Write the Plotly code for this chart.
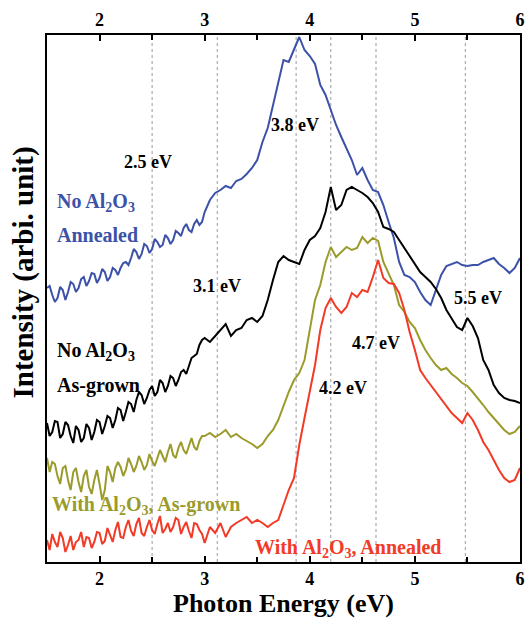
import plotly.graph_objects as go

energy = [1.500, 1.525, 1.550, 1.575, 1.600, 1.625, 1.650, 1.675, 1.700, 1.725,
          1.750, 1.775, 1.800, 1.825, 1.850, 1.875, 1.900, 1.925, 1.950, 1.975,
          2.000, 2.025, 2.050, 2.075, 2.100, 2.125, 2.150, 2.175, 2.200, 2.225,
          2.250, 2.275, 2.300, 2.325, 2.350, 2.375, 2.400, 2.425, 2.450, 2.475,
          2.500, 2.525, 2.550, 2.575, 2.600, 2.625, 2.650, 2.675, 2.700, 2.725,
          2.750, 2.775, 2.800, 2.825, 2.850, 2.875, 2.900, 2.925, 2.950, 2.975,
          3.00, 3.05, 3.10, 3.15, 3.20, 3.25, 3.30, 3.35, 3.40, 3.45,
          3.50, 3.55, 3.60, 3.65, 3.70, 3.75, 3.80, 3.85, 3.90, 3.95,
          4.00, 4.05, 4.10, 4.15, 4.20, 4.25, 4.30, 4.35, 4.40, 4.45,
          4.50, 4.55, 4.60, 4.65, 4.70, 4.75, 4.80, 4.85, 4.90, 4.95,
          5.00, 5.05, 5.10, 5.15, 5.20, 5.25, 5.30, 5.35, 5.40, 5.45,
          5.50, 5.55, 5.60, 5.65, 5.70, 5.75, 5.80, 5.85, 5.90, 5.95, 6.00]

no_al2o3_annealed = [274, 276, 267, 260, 264, 275, 272, 262, 270, 280,
                     278, 270, 274, 283, 285, 276, 281, 289, 288, 279,
                     284, 293, 290, 281, 285, 294, 292, 287, 294, 299,
                     300, 297, 304, 313, 310, 303, 308, 318, 316, 309,
                     313, 323, 320, 315, 317, 327, 324, 318, 322, 331,
                     329, 326, 334, 338, 332, 330, 338, 342, 337, 340,
                     350, 362, 369, 372, 376, 374, 381, 383, 388, 394,
                     402, 420, 434, 457, 480, 502, 500, 512, 525, 512,
                     506, 498, 477, 467, 452, 437, 425, 414, 402, 387,
                     394, 382, 372, 370, 357, 340, 324, 300, 287, 285,
                     280, 270, 262, 257, 272, 287, 296, 298, 300, 297,
                     296, 297, 297, 300, 302, 304, 298, 294, 289, 294, 304]

no_al2o3_asgrown = [139, 126, 130, 141, 140, 124, 128, 140, 137, 126,
                    119, 136, 132, 120, 124, 138, 134, 122, 130, 142,
                    140, 128, 136, 146, 144, 134, 142, 154, 152, 141,
                    150, 160, 158, 150, 162, 170, 167, 158, 164, 172,
                    176, 166, 170, 182, 179, 170, 176, 186, 184, 176,
                    182, 190, 192, 188, 196, 204, 206, 208, 217, 222,
                    224, 220, 226, 232, 238, 226, 232, 234, 242, 244,
                    240, 246, 262, 282, 300, 306, 302, 300, 298, 312,
                    322, 326, 334, 350, 375, 352, 357, 372, 375, 372,
                    369, 365, 359, 350, 335, 333, 330, 322, 314, 305,
                    297, 290, 285, 280, 273, 264, 252, 244, 235, 232,
                    244, 236, 224, 202, 192, 177, 169, 164, 162, 161, 159]

with_al2o3_asgrown = [104, 90, 100, 98, 86, 78, 94, 96, 82, 72,
                      90, 94, 80, 70, 86, 92, 75, 68, 82, 92,
                      78, 62, 72, 96, 90, 80, 94, 100, 95, 86,
                      92, 104, 98, 90, 96, 106, 100, 92, 97, 108,
                      101, 96, 104, 112, 106, 100, 110, 118, 107, 104,
                      114, 120, 112, 108, 116, 124, 115, 112, 121, 126,
                      126, 129, 125, 128, 132, 125, 128, 124, 121, 118,
                      114, 118, 126, 132, 142, 157, 170, 182, 189, 202,
                      232, 262, 277, 300, 315, 305, 310, 315, 312, 314,
                      325, 319, 324, 321, 300, 289, 277, 257, 250, 240,
                      234, 222, 212, 204, 197, 192, 194, 188, 184, 179,
                      176, 170, 164, 157, 150, 144, 138, 132, 128, 130, 136]

with_al2o3_annealed = [22, 12, 28, 20, 15, 30, 24, 10, 17, 26,
                       12, 20, 22, 30, 15, 25, 24, 14, 20, 30,
                       29, 18, 21, 34, 27, 20, 32, 40, 25, 24,
                       35, 42, 31, 26, 38, 44, 29, 26, 35, 42,
                       32, 28, 38, 46, 29, 33, 39, 30, 35, 44,
                       42, 28, 35, 40, 31, 24, 39, 38, 32, 28,
                       19, 35, 29, 39, 25, 35, 39, 42, 45, 39,
                       42, 39, 35, 39, 42, 57, 72, 84, 117, 144,
                       172, 197, 232, 254, 264, 255, 249, 255, 269, 265,
                       272, 270, 285, 302, 284, 279, 278, 269, 252, 230,
                       212, 192, 184, 177, 169, 162, 155, 149, 144, 139,
                       149, 142, 132, 120, 112, 102, 92, 84, 80, 82, 94]

guide_energies = [2.5, 3.12, 3.87, 4.2, 4.63, 5.48]
x_ticks = [2, 3, 4, 5, 6]
x_minor_ticks = [2.5, 3.5, 4.5, 5.5]
x_range = [1.5, 6.0]
y_range = [0, 527]

series = [
    ("No Al2O3, Annealed", no_al2o3_annealed, "#3c51a8"),
    ("No Al2O3, As-grown", no_al2o3_asgrown, "#000000"),
    ("With Al2O3, As-grown", with_al2o3_asgrown, "#9b9b2c"),
    ("With Al2O3, Annealed", with_al2o3_annealed, "#f23a26"),
]

FONT = "Liberation Serif, Times New Roman, serif"

fig = go.Figure()
for name, vals, col in series:
    fig.add_trace(go.Scatter(x=energy, y=vals, mode="lines", name=name,
                             line=dict(color=col, width=2), showlegend=False))

# invisible trace to carry the top axis
fig.add_trace(go.Scatter(x=x_range, y=[None, None], xaxis="x2", mode="lines",
                         showlegend=False, hoverinfo="skip"))

for e in guide_energies:
    fig.add_shape(type="line", xref="x", yref="paper", x0=e, x1=e, y0=0, y1=1,
                  line=dict(color="#9a9a9a", width=1, dash="dot"), layer="below")

tickfont = dict(family=FONT, size=18, color="black", weight="bold")
axis_common = dict(range=x_range, tickvals=x_ticks, ticks="inside", ticklen=6,
                   tickwidth=1.5, tickcolor="black", tickfont=tickfont,
                   showgrid=False, zeroline=False, showline=True,
                   linecolor="black", linewidth=1.5, automargin=False,
                   minor=dict(tickvals=x_minor_ticks, ticks="inside",
                              ticklen=5, tickcolor="black", tickwidth=1.5))

fig.update_layout(
    width=525, height=618,
    margin=dict(l=47, r=5, t=35, b=56, autoexpand=False),
    plot_bgcolor="white", paper_bgcolor="white",
    xaxis=dict(**axis_common, mirror=False),
    xaxis2=dict(**axis_common, overlaying="x", side="top", anchor="y"),
    yaxis=dict(range=y_range, showticklabels=False, ticks="", showgrid=False,
               zeroline=False, showline=True, mirror=True, automargin=False,
               linecolor="black", linewidth=1.5),
)

ann_font = lambda size, col: dict(family=FONT, size=size, color=col, weight="bold")
labels = [
    ("2.5 eV", 2.462, 400, "center", 18, "black"),
    ("3.8 eV", 3.858, 437, "center", 18, "black"),
    ("3.1 eV", 3.117, 276, "center", 18, "black"),
    ("4.2 eV", 4.315, 174, "center", 18, "black"),
    ("4.7 eV", 4.627, 219, "center", 18, "black"),
    ("5.5 eV", 5.596, 264, "center", 18, "black"),
    ("No Al<sub>2</sub>O<sub>3</sub>", 1.58, 360, "left", 20, "#3c51a8"),
    ("Annealed", 1.58, 327, "left", 20, "#3c51a8"),
    ("No Al<sub>2</sub>O<sub>3</sub>", 1.58, 211, "left", 20, "black"),
    ("As-grown", 1.58, 177, "left", 20, "black"),
    ("With Al<sub>2</sub>O<sub>3</sub>, As-grown", 1.53, 57, "left", 20, "#9b9b2c"),
    ("With Al<sub>2</sub>O<sub>3</sub>, Annealed", 3.46, 14, "left", 20, "#f23a26"),
]
for text, x, y, anchor, size, col in labels:
    fig.add_annotation(x=x, y=y, xref="x", yref="y", text=text, showarrow=False,
                       xanchor=anchor, yanchor="middle", font=ann_font(size, col))

fig.add_annotation(x=0.5, y=-0.078, xref="paper", yref="paper",
                   text="Photon Energy (eV)", showarrow=False,
                   xanchor="center", yanchor="middle", font=ann_font(26, "black"))
fig.add_annotation(x=-0.05, y=0.55, xref="paper", yref="paper",
                   text="Intensity (arbi. unit)", showarrow=False, textangle=-90,
                   xanchor="center", yanchor="middle", font=ann_font(29, "black"))

fig.write_html("out.html", config={"displayModeBar": False},
               post_script="document.body.style.margin='0';"
                           "document.body.style.overflow='hidden';")
